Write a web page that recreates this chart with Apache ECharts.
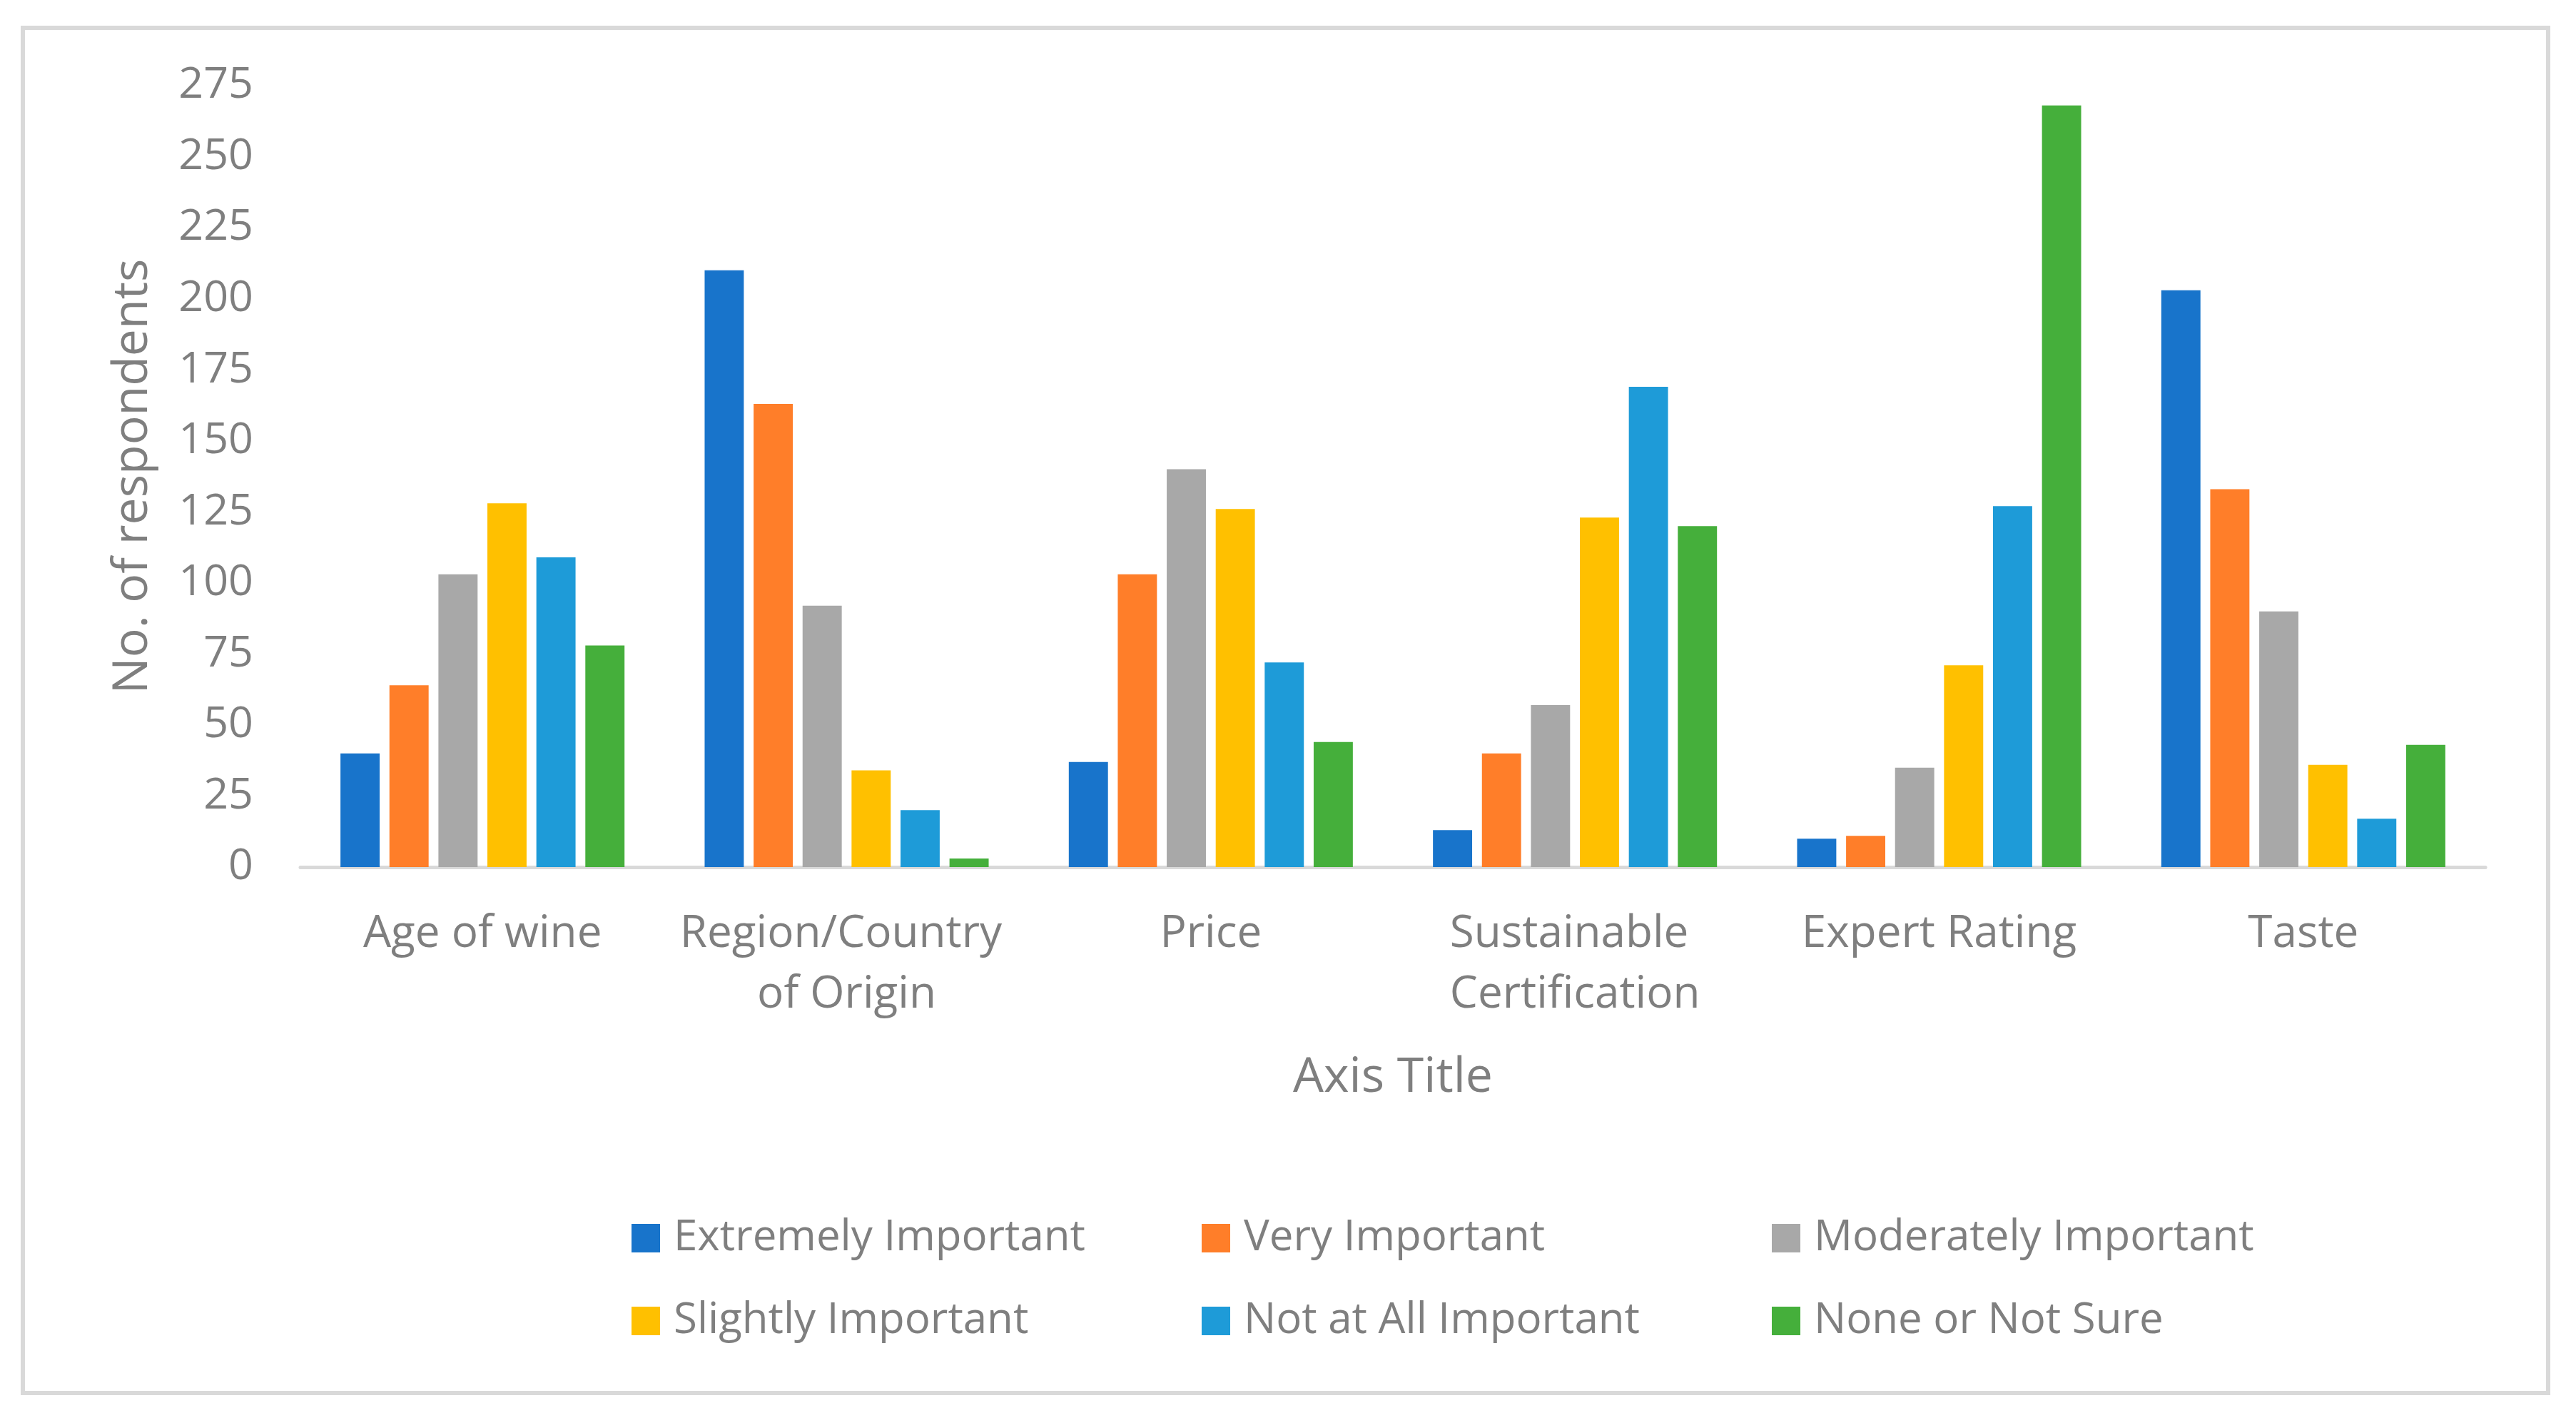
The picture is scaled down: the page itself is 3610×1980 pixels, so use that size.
<!DOCTYPE html>
<html>
<head>
<meta charset="utf-8">
<script src="https://cdn.jsdelivr.net/npm/echarts@6/dist/echarts.min.js"></script>
<style>
  html, body { margin: 0; padding: 0; background: #ffffff; }
  #chart { width: 3610px; height: 1980px; }
</style>
</head>
<body>
<div id="chart"></div>
<script>
// ---- Data ----
const categories = ['Age of wine', 'Region/Country of Origin', 'Price', 'Sustainable Certification', 'Expert Rating', 'Taste'];
const seriesNames = ['Extremely Important', 'Very Important', 'Moderately Important', 'Slightly Important', 'Not at All Important', 'None or Not Sure'];
const extremelyImportant = [40, 210, 37, 13, 10, 203];
const veryImportant      = [64, 163, 103, 40, 11, 133];
const moderatelyImportant= [103, 92, 140, 57, 35, 90];
const slightlyImportant  = [128, 34, 126, 123, 71, 36];
const notAtAllImportant  = [109, 20, 72, 169, 127, 17];
const noneOrNotSure      = [78, 3, 44, 120, 268, 43];
const yTicks = { min: 0, max: 275, interval: 25 };
const yAxisTitle = 'No. of respondents';
const xAxisTitle = 'Axis Title';

// ---- Styles ----
const colors = ['#1874CB', '#FF7E29', '#A8A8A8', '#FFC000', '#1E9BD8', '#45AF3B'];
const textColor = '#7F7F7F';
const fontFamily = '"Open Sans", "Noto Sans", sans-serif';
const seriesValues = [extremelyImportant, veryImportant, moderatelyImportant, slightlyImportant, notAtAllImportant, noneOrNotSure];

const legendPos = [
  { left: 880, top: 1700 }, { left: 1679, top: 1700 }, { left: 2478, top: 1700 },
  { left: 880, top: 1816 }, { left: 1679, top: 1816 }, { left: 2478, top: 1816 }
];

const chart = echarts.init(document.getElementById('chart'), null, { renderer: 'canvas' });

const option = {
  backgroundColor: '#ffffff',
  animation: false,
  color: colors,
  textStyle: { fontFamily: fontFamily, color: textColor },
  graphic: [{
    type: 'rect',
    shape: { x: 32, y: 39, width: 3539, height: 1913 },
    style: { fill: 'none', stroke: '#D9D9D9', lineWidth: 6 },
    silent: true
  }],
  grid: { left: 421, right: 127, top: 120, bottom: 765, containLabel: false },
  legend: seriesNames.map((n, i) => ({
    data: [n],
    left: legendPos[i].left,
    top: legendPos[i].top,
    orient: 'horizontal',
    itemWidth: 40,
    itemHeight: 40,
    icon: 'rect',
    selectedMode: false,
    textStyle: { fontSize: 60, color: textColor, fontFamily: fontFamily, padding: [0, 0, 0, 14] }
  })),
  xAxis: {
    type: 'category',
    data: categories,
    axisTick: { show: false },
    axisLine: { show: true, lineStyle: { color: '#D9D9D9', width: 5 } },
    axisLabel: {
      fontSize: 62, color: textColor, fontFamily: fontFamily,
      margin: 52, lineHeight: 85, width: 480, overflow: 'break', interval: 0
    },
    name: xAxisTitle,
    nameLocation: 'middle',
    nameGap: 262,
    nameTextStyle: { fontSize: 68, color: textColor, fontFamily: fontFamily }
  },
  yAxis: {
    type: 'value',
    min: yTicks.min, max: yTicks.max, interval: yTicks.interval,
    splitLine: { show: false },
    axisLine: { show: false },
    axisTick: { show: false },
    axisLabel: { fontSize: 61, color: textColor, fontFamily: fontFamily, margin: 66 },
    name: yAxisTitle,
    nameLocation: 'middle',
    nameGap: 200,
    nameTextStyle: { fontSize: 68, color: textColor, fontFamily: fontFamily }
  },
  series: seriesNames.map((n, i) => ({
    name: n,
    type: 'bar',
    data: seriesValues[i],
    barGap: '25%',
    barCategoryGap: '22%',
    itemStyle: { color: colors[i] }
  }))
};

chart.setOption(option);
</script>
</body>
</html>
